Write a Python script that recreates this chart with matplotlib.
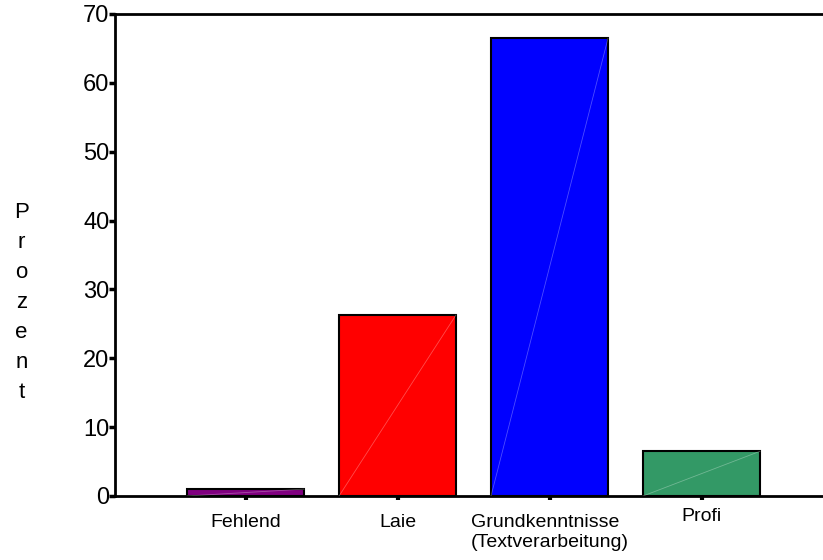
import matplotlib
matplotlib.use("Agg")
import matplotlib.pyplot as plt
import matplotlib.transforms as mtransforms
import numpy as np

categories = ["Fehlend", "Laie", "Grundkenntnisse\n(Textverarbeitung)", "Profi"]
values = [1.0, 26.3, 66.5, 6.5]
colors = ["#800080", "#FF0000", "#0000FF", "#339966"]
yticks = [0, 10, 20, 30, 40, 50, 60, 70]
ylabel = "Prozent"

plt.rcParams['font.family'] = ['Liberation Sans', 'DejaVu Sans']

fig = plt.figure(figsize=(8.23, 5.6), dpi=100)
ax = fig.add_axes([0.1397, 0.1143, 0.8603, 0.8607])

x = np.arange(len(categories))
width = 0.77
bars = ax.bar(x, values, width=width, color=colors, edgecolor="black", linewidth=1.5, zorder=2)
for xi, v in zip(x, values):
    ax.plot([xi - width / 2, xi + width / 2], [0, v], color="white", alpha=0.3, lw=0.6, zorder=3)

ax.set_xlim(-0.859, 3.799)
ax.set_ylim(0, 70)
ax.set_yticks(yticks)
ax.set_yticklabels([str(t) for t in yticks], fontsize=17)
ax.set_xticks(x)
ax.set_xticklabels(categories, fontsize=14, multialignment="left")
ax.tick_params(axis="y", direction="out", length=4, width=2.5, pad=0)
ax.tick_params(axis="x", direction="out", length=3, width=3, pad=10)

# "Profi" label sits slightly higher in the original
lbl = ax.get_xticklabels()[3]
lbl.set_transform(lbl.get_transform() + mtransforms.ScaledTranslation(0, 6 / 100, fig.dpi_scale_trans))

for s in ["top", "left", "bottom"]:
    ax.spines[s].set_linewidth(2)
    ax.spines[s].set_color("black")
ax.spines["right"].set_visible(False)

fig.text(0.026, 0.46, "\n".join(ylabel), fontsize=16, ha="center", va="center", linespacing=1.57)

fig.savefig("out.png", dpi=100)
